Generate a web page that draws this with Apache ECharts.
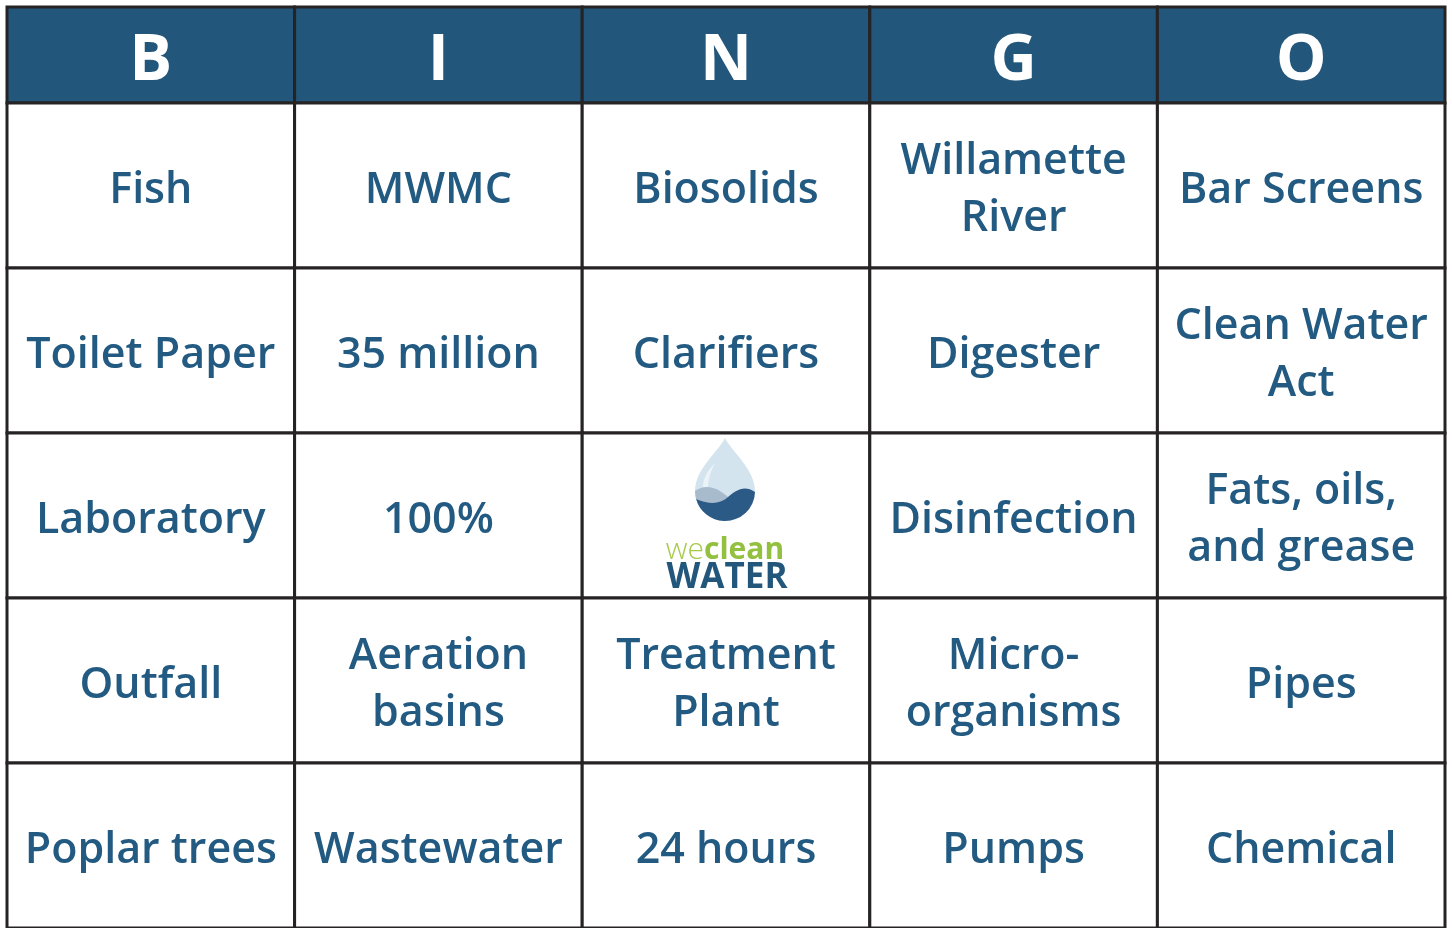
<!DOCTYPE html>
<html>
<head>
<meta charset="utf-8">
<script src="https://cdn.jsdelivr.net/npm/echarts@6/dist/echarts.min.js"></script>
<style>
  html, body { margin: 0; background: #fff; }
  #chart { width: 1452px; height: 928px; }
</style>
</head>
<body>
<div id="chart"></div>
<script>
// Bingo card: header letters + 5x5 grid of terms, centre square is the logo.
const LOGO = '__logo__';
const letters = ['B', 'I', 'N', 'G', 'O'];
const row1 = ['Fish', 'MWMC', 'Biosolids', 'Willamette\nRiver', 'Bar Screens'];
const row2 = ['Toilet Paper', '35 million', 'Clarifiers', 'Digester', 'Clean Water\nAct'];
const row3 = ['Laboratory', '100%', LOGO, 'Disinfection', 'Fats, oils,\nand grease'];
const row4 = ['Outfall', 'Aeration\nbasins', 'Treatment\nPlant', 'Micro-\norganisms', 'Pipes'];
const row5 = ['Poplar trees', 'Wastewater', '24 hours', 'Pumps', 'Chemical'];
const bodyRows = [row1, row2, row3, row4, row5];

const HEAD_FILL = '#22567b';
const TEXT = '#225a82';
const BORDER = '#262324';
const FONT = '"Open Sans", "Noto Sans", sans-serif';

const headerData = letters.map((_, i) => [i, 0]);
const bodyData = [];
bodyRows.forEach((row, r) => row.forEach((_, c) => bodyData.push([c, r])));

function cellRect(api) {
  const [x, y] = api.coord([api.value(0), api.value(1)]);
  const [w, h] = api.size([1, 1]);
  return { x, y, w, h };
}

function headerCell(params, api) {
  const { x, y, w, h } = cellRect(api);
  return {
    type: 'group',
    children: [
      { type: 'rect', shape: { x: x - w / 2, y: y - h / 2, width: w, height: h },
        style: { fill: HEAD_FILL, stroke: BORDER, lineWidth: 3 } },
      { type: 'text', x, y: y + 7,
        style: { text: letters[api.value(0)], fill: '#fff', fontFamily: FONT,
                 fontWeight: 'bold', fontSize: 64, align: 'center', verticalAlign: 'middle' } }
    ]
  };
}

// weclean WATER mark, drawn round the cell centre
function logo(cx, cy) {
  const drop = 'M0,-53 C6,-40 30,-22 30,0 A30,30 0 0 1 0,30 A30,30 0 0 1 -30,0 C-30,-22 -6,-40 0,-53 Z';
  const mid = 'M-30,0 C-20,-7 -9,-5 3,6 C-6,14 -18,13 -28.9,8 A30,30 0 0 1 -30,0 Z';
  const dark = 'M30,1 A30,30 0 0 1 -28.9,8 C-18,13 -6,14 3,6 C10,0 19,-7 30,1 Z';
  const shine = 'M-22,-4 C-22,-14 -16,-22 -10,-28 C-14,-20 -17,-12 -17,-4 Z';
  return [
    { type: 'group', x: cx - 1, y: cy - 24.5, children: [
      { type: 'path', shape: { pathData: drop }, style: { fill: '#d3e4ef' } },
      { type: 'path', shape: { pathData: mid }, style: { fill: '#a8bbcd' } },
      { type: 'path', shape: { pathData: dark }, style: { fill: '#2b5a86' } },
      { type: 'path', shape: { pathData: shine }, style: { fill: 'rgba(255,255,255,0.55)' } }
    ] },
    { type: 'text', x: cx - 1, y: cy + 35,
      style: { text: '{a|we}{b|clean}', align: 'center', verticalAlign: 'middle',
               rich: {
                 a: { fontFamily: FONT, fontSize: 30, fontWeight: 300, fill: '#a7ca4c' },
                 b: { fontFamily: FONT, fontSize: 30, fontWeight: 'bold', fill: '#93c03e' }
               } } },
    { type: 'text', x: cx + 1, y: cy + 63,
      style: { text: 'WATER', fill: HEAD_FILL, fontFamily: FONT, fontWeight: 'bold',
               fontSize: 35, align: 'center', verticalAlign: 'middle' } }
  ];
}

function bodyCell(params, api) {
  const { x, y, w, h } = cellRect(api);
  const text = bodyRows[api.value(1)][api.value(0)];
  const children = [
    { type: 'rect', shape: { x: x - w / 2, y: y - h / 2, width: w, height: h },
      style: { fill: '#fff', stroke: BORDER, lineWidth: 3 } }
  ];
  if (text === LOGO) {
    children.push(...logo(x, y));
  } else {
    children.push({ type: 'text', x, y: y + 5,
      style: { text, fill: TEXT, fontFamily: FONT, fontWeight: 600, fontSize: 43,
               lineHeight: 57, align: 'center', verticalAlign: 'middle' } });
  }
  return { type: 'group', children };
}

const cols = letters.map((_, i) => String(i));
const hidden = { show: false };

const chart = echarts.init(document.getElementById('chart'));
chart.setOption({
  animation: false,
  grid: [
    { left: 7, right: 7, top: 7, height: 96 },
    { left: 7, right: 7, top: 103, height: 827 }
  ],
  xAxis: [
    { type: 'category', data: cols, gridIndex: 0, ...hidden },
    { type: 'category', data: cols, gridIndex: 1, ...hidden }
  ],
  yAxis: [
    { type: 'category', data: ['h'], gridIndex: 0, ...hidden },
    { type: 'category', data: bodyRows.map((_, i) => String(i)), gridIndex: 1, inverse: true, ...hidden }
  ],
  series: [
    { type: 'custom', xAxisIndex: 0, yAxisIndex: 0, data: headerData, renderItem: headerCell, clip: false },
    { type: 'custom', xAxisIndex: 1, yAxisIndex: 1, data: bodyData, renderItem: bodyCell, clip: false }
  ]
});
</script>
</body>
</html>
